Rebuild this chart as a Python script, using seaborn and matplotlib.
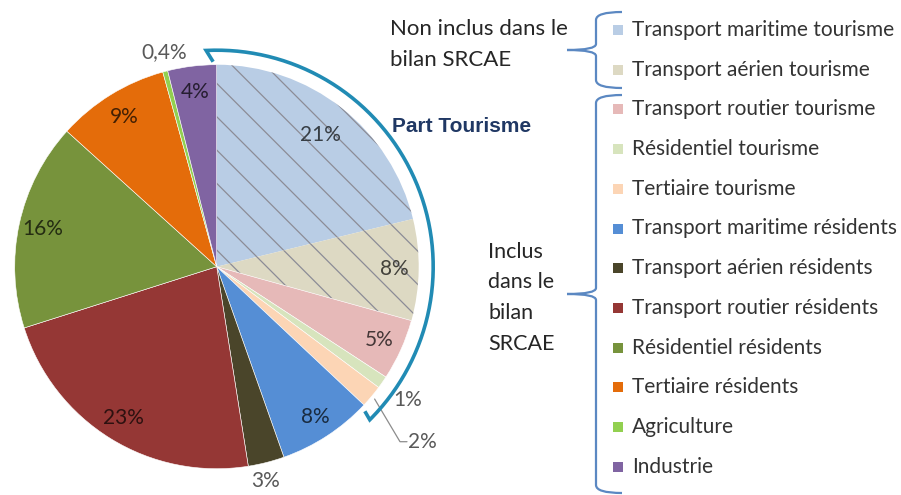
import numpy as np
import seaborn as sns
import matplotlib.pyplot as plt
from matplotlib.path import Path
from matplotlib.patches import PathPatch, Rectangle

# donnees (parts en %)
categories = ['Transport maritime tourisme', 'Transport aérien tourisme',
              'Transport routier tourisme', 'Résidentiel tourisme',
              'Tertiaire tourisme', 'Transport maritime résidents',
              'Transport aérien résidents', 'Transport routier résidents',
              'Résidentiel résidents', 'Tertiaire résidents',
              'Agriculture', 'Industrie']
parts = [21.2, 8.1, 4.9, 1.0, 1.8, 7.6, 2.9, 22.6, 16.6, 9.0, 0.4, 3.9]
pct_labels = ['21%', '8%', '5%', '1%', '2%', '8%', '3%', '23%', '16%', '9%', '0,4%', '4%']

couleurs = ['#B9CDE5', '#DDD9C3', '#E6B9B8', '#D7E4BD', '#FCD5B5', '#558ED5',
            '#4A452A', '#953735', '#77933C', '#E46C0A', '#92D050', '#8064A2']

sns.set_theme(style='white')
plt.rcParams['font.family'] = ['Lato', 'DejaVu Sans']
plt.rcParams['hatch.linewidth'] = 0.9
palette = sns.color_palette(couleurs)

W, H = 901, 495
def Y(y):
    return H - y

f = plt.figure(figsize=(9.01, 4.95), dpi=100)
ax = f.add_axes([0, 0, 1, 1])

cx, cy, R = 216.7, Y(266.7), 202
wedges, _ = ax.pie(parts, colors=palette, startangle=90, counterclock=False,
                   center=(cx, cy), radius=R,
                   wedgeprops=dict(edgecolor='white', linewidth=0.4))
# partie hachuree (non incluse dans le bilan)
for w in wedges[:2]:
    w.set_hatch('\\')
    w.set_edgecolor('#8C8C96')
    w.set_linewidth(0)

ax.set_xlim(0, W)
ax.set_ylim(0, H)
ax.set_aspect('equal')
ax.axis('off')

# etiquettes des pourcentages
dist = [0.83, 0.88, 0.88, 1.15, None, 0.89, 1.09, 0.88, 0.88, 0.87, 1.095, 0.87]
for i, w in enumerate(wedges):
    mid = np.radians((w.theta1 + w.theta2) / 2)
    if i == 4:
        x0, y0 = cx + 1.02 * R * np.cos(mid), cy + 1.02 * R * np.sin(mid)
        x1, y1 = 400, Y(441.7)
        ax.plot([x0, x1, x1 + 7], [y0, y1, y1], color='#8C8C8C', lw=0.9)
        ax.text(x1 + 8, y1, pct_labels[i], ha='left', va='center',
                fontsize=15, color='#595959')
        continue
    d = dist[i]
    if d > 1:
        col = '#595959'
    else:
        col = tuple(np.array(palette[i]) * 0.3)
    ang = mid
    if i == 6:
        ang = mid - np.radians(1.5)
    if i == 10:
        ang = mid + np.radians(-1.0)
    ax.text(cx + d * R * np.cos(ang), cy + d * R * np.sin(ang), pct_labels[i],
            ha='center', va='center', fontsize=15, color=col)

# accolade "Part Tourisme"
teal = '#218BB4'
a = np.radians(np.linspace(92.8, -45, 200))
ra = 216.5
xs = list(cx + ra * np.cos(a))
ys = list(cy + ra * np.sin(a))
t1, t2 = np.radians(91), np.radians(-44.3)
xs = [cx + 205 * np.cos(t1)] + xs + [cx + 207 * np.cos(t2)]
ys = [cy + 205 * np.sin(t1)] + ys + [cy + 207 * np.sin(t2)]
ax.plot(xs, ys, color=teal, lw=2.6, solid_joinstyle='miter', solid_capstyle='butt')
ax.text(392, Y(126), 'Part Tourisme', ha='left', va='center', fontsize=15,
        fontweight='bold', family=['Liberation Sans', 'DejaVu Sans'], color='#203864')


def accolade(x, yt, yb, tip, arm, k=8, k2=6):
    ym = (yt + yb) / 2
    pts = [(arm, yt), (x, yt), (x, yt + k), (x, ym - k2), (x, ym), (tip, ym),
           (x, ym), (x, ym + k2), (x, yb - k), (x, yb), (arm, yb)]
    codes = [Path.MOVETO, Path.CURVE3, Path.CURVE3, Path.LINETO, Path.CURVE3, Path.CURVE3,
             Path.CURVE3, Path.CURVE3, Path.LINETO, Path.CURVE3, Path.CURVE3]
    pts = [(px, Y(py)) for px, py in pts]
    ax.add_patch(PathPatch(Path(pts, codes), fill=False, edgecolor='#5B88C2', lw=1.6))


accolade(596, 12, 88, 567, 622)
accolade(596, 95, 493, 567, 622)

# textes des groupes
for j, ligne in enumerate(['Non inclus dans le', 'bilan SRCAE']):
    ax.text(390, Y(29 + j * 31), ligne, ha='left', va='center', fontsize=16, color='#262626')
for j, ligne in enumerate(['Inclus', 'dans le', 'bilan', 'SRCAE']):
    ax.text(488, Y(252 + j * 30.5), ligne, ha='left', va='center', fontsize=15.5, color='#262626')

# legende
for i, nom in enumerate(categories):
    yl = 30 + i * 39.7
    ax.add_patch(Rectangle((613, Y(yl) - 5), 10, 10, facecolor=palette[i], edgecolor='none'))
    ax.text(632, Y(yl), nom, ha='left', va='center', fontsize=15, color='#333333')

f.savefig('out.png', dpi=100)
